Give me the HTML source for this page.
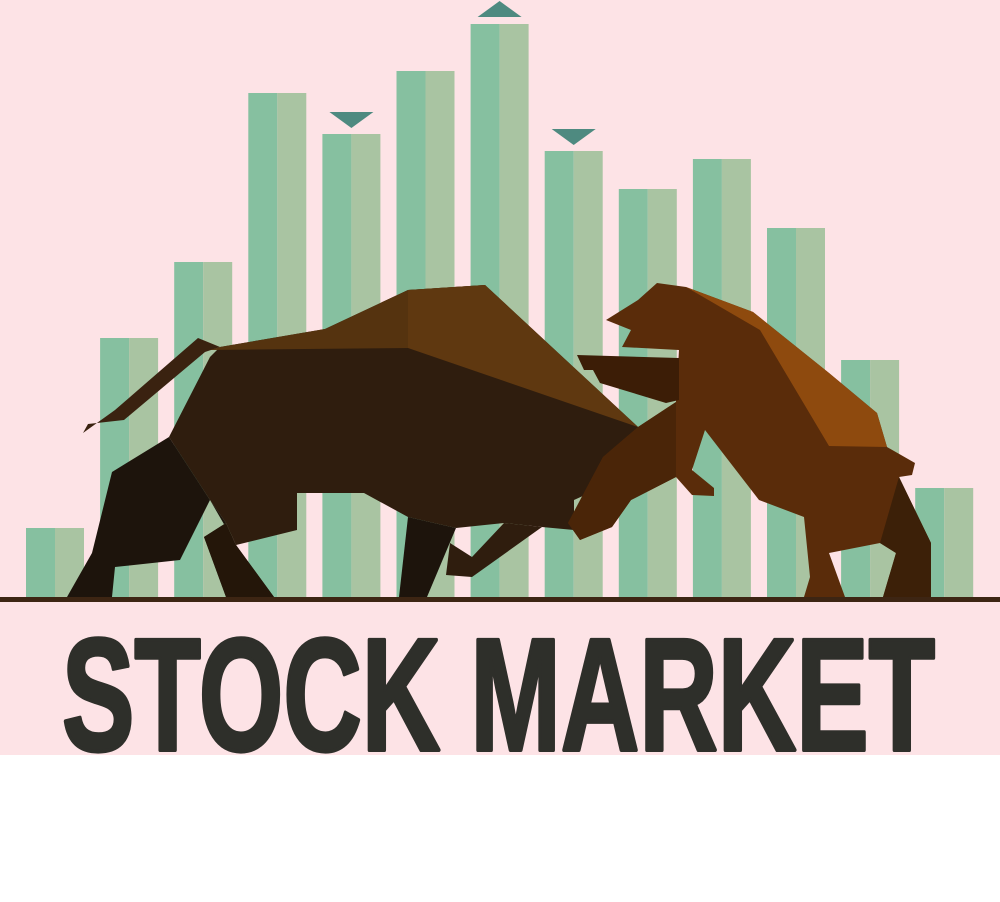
<!DOCTYPE html>
<html><head><meta charset="utf-8"><style>
html,body{margin:0;padding:0;background:#fff}
svg{display:block}
</style></head><body>
<svg width="1000" height="902" viewBox="0 0 1000 902">
<rect x="0" y="0" width="1000" height="755" fill="#fde3e6"/>
<g id="bars"></g>
<g id="markers"></g>
<g>
<polygon fill="#3a2210" points="83,433 115,410 198,338 220,347 205,352 124,420 88,424"/>
<polygon fill="#2f1d0e" points="220,347 325,329 408,290 485,285 638,427 676,430 640,470 574,500 574,530 542,527 504,523 456,528 408,517 364,493 297,493 297,530 236,545 226,523 210,500 169,437 210,357"/>
<polygon fill="#55330f" points="220,347 325,329 408,290 485,285 638,427 560,385 410,348 210,350"/>
<polygon fill="#5f3810" points="408,290 485,285 638,427 408,348"/>
<polygon fill="#1d140c" points="169,437 210,500 226,523 204,537 226,597 274,597 236,545 210,500 180,560 115,567 112,597 67,597 92,553 112,472"/>
<polygon fill="#1d140c" points="408,517 399,597 427,597 456,528"/>
<polygon fill="#2f1d0e" points="504,523 472,557 450,543 446,575 472,577 542,527"/>
<polygon fill="#241609" points="226,523 204,537 226,597 274,597 236,545"/>
</g>
<g>
<polygon fill="#5a2c0a" points="638,300 657,283 686,287 753,312 829,373 877,413 887,447 915,463 912,475 899,477 931,543 931,597 883,597 896,553 880,543 829,553 845,597 804,597 810,577 804,517 759,500 705,430 692,470 714,488 714,496 692,495 676,477 631,500 612,527 580,540 568,523 603,457 638,427 676,402 679,350 622,347 631,330 606,320"/>
<polygon fill="#8e4a0e" points="686,287 753,312 829,373 877,413 887,447 829,446 760,330"/>
<polygon fill="#4a2508" points="568,523 603,457 638,427 676,402 676,477 631,500 612,527 580,540"/>
<polygon fill="#3c2008" points="880,543 899,477 931,543 931,597 883,597 896,553"/>
<polygon fill="#3c1d06" points="577,355 679,358 679,400 666,403 600,383 593,370 584,370"/>
</g>
<rect x="0" y="597" width="1000" height="5" fill="#3d2513"/>
<text x="62" y="750" font-family="'Liberation Sans', sans-serif" font-weight="bold" font-size="160" fill="#2e2f2a" stroke="#2e2f2a" stroke-width="4" stroke-linejoin="round" textLength="873" lengthAdjust="spacingAndGlyphs">STOCK MARKET</text>
</svg>
<script>
const categories = ["b1","b2","b3","b4","b5","b6","b7","b8","b9","b10","b11","b12","b13"];
const values = [70,260,336,505,464,527,574,447,409,439,370,238,110];
const markerDir = [0,0,0,0,-1,0,1,-1,0,0,0,0,0];
const base = 598, x0 = 26, step = 74.1, bw = 58;
function xScale(i){ return x0 + i*step; }
function yScale(v){ return base - v; }
const ns = "http://www.w3.org/2000/svg";
const g = document.getElementById('bars'), m = document.getElementById('markers');
values.forEach((v,i)=>{
  const x = xScale(i), y = yScale(v);
  const a = document.createElementNS(ns,'rect');
  a.setAttribute('x',x); a.setAttribute('y',y); a.setAttribute('width',bw/2); a.setAttribute('height',base-y); a.setAttribute('fill','#86c0a0');
  
  
  g.appendChild(a);
  const b = document.createElementNS(ns,'rect');
  b.setAttribute('x',x+bw/2); b.setAttribute('y',y); b.setAttribute('width',bw/2); b.setAttribute('height',base-y); b.setAttribute('fill','#a9c4a2');
  
  
  g.appendChild(b);
  if(markerDir[i]!==0){
    const p = document.createElementNS(ns,'polygon');
    const cx = x+bw/2;
    let pts;
    if(markerDir[i]>0) pts = `${cx-22},${y-7} ${cx+22},${y-7} ${cx},${y-23}`;
    else pts = `${cx-22},${y-22} ${cx+22},${y-22} ${cx},${y-6}`;
    p.setAttribute('points',pts); p.setAttribute('fill','#4e8a80');
    
    
    m.appendChild(p);
  }
});
</script>
</body></html>
